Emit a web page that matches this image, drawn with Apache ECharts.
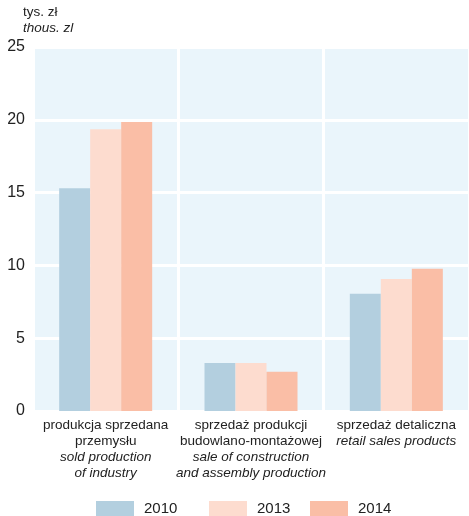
<!DOCTYPE html>
<html><head><meta charset="utf-8">
<script src="https://cdn.jsdelivr.net/npm/echarts@6/dist/echarts.min.js"></script>
<style>html,body{margin:0;padding:0;background:#fff}#c{width:469px;height:516px}</style>
</head><body><div id="c"></div>
<script>
const categories = [
  ['produkcja sprzedana', 'przemysłu', 'sold production', 'of industry'],
  ['sprzedaż produkcji', 'budowlano-montażowej', 'sale of construction', 'and assembly production'],
  ['sprzedaż detaliczna', 'retail sales products']
];
const catItalicFrom = [2, 2, 1];
const seriesNames = ['2010', '2013', '2014'];
const values2010 = [15.3, 3.3, 8.05];
const values2013 = [19.35, 3.3, 9.07];
const values2014 = [19.85, 2.7, 9.77];
const yTicks = [0, 5, 10, 15, 20, 25];
const colors = ['#b3cfdf', '#fddccf', '#fabea6'];
const FONT = '"Liberation Sans Narrow", "Liberation Sans", Arial, sans-serif';
const legendLeft = [91, 204, 305];

const catLabels = categories.map((lines, i) =>
  lines.map((l, j) => j >= catItalicFrom[i] ? '{i|' + l + '}' : '{n|' + l + '}').join('\n'));

const chart = echarts.init(document.getElementById('c'));
chart.setOption({
  animation: false,
  textStyle: { fontFamily: FONT },
  graphic: [
    { type: 'text', left: 23, top: 5, style: { text: 'tys. zł', font: '13.5px ' + FONT, fill: '#222' } },
    { type: 'text', left: 23, top: 21, style: { text: 'thous. zl', font: 'italic 13.5px ' + FONT, fill: '#222' } }
  ],
  grid: { left: 33, right: 0, top: 47, bottom: 105, backgroundColor: '#eaf5fb', show: true, borderWidth: 0 },
  legend: seriesNames.map((n, i) => ({
    top: 496, left: legendLeft[i], itemWidth: 38, itemHeight: 16,
    icon: 'rect',
    textStyle: { fontFamily: FONT, fontSize: 15, color: '#222', padding: [0, 0, 0, 5] },
    data: [n]
  })),
  xAxis: {
    type: 'category',
    data: catLabels,
    axisLine: { show: false }, axisTick: { show: false },
    splitLine: { show: true, lineStyle: { color: '#fff', width: 3 } },
    axisLabel: {
      interval: 0, margin: 6, lineHeight: 16,
      rich: {
        n: { fontFamily: FONT, fontSize: 13.5, color: '#222', lineHeight: 16 },
        i: { fontFamily: FONT, fontSize: 13.5, fontStyle: 'italic', color: '#222', lineHeight: 16 }
      }
    }
  },
  yAxis: {
    type: 'value', min: 0, max: 25, interval: 5,
    axisLine: { show: false }, axisTick: { show: false },
    splitLine: { lineStyle: { color: '#fff', width: 3 } },
    axisLabel: {
      fontFamily: FONT, fontSize: 16, color: '#222', margin: 8,
      formatter: v => yTicks.includes(v) ? String(v) : ''
    }
  },
  series: [values2010, values2013, values2014].map((d, i) => ({
    name: seriesNames[i], type: 'bar', data: d,
    barGap: '0%', barCategoryGap: '36%',
    itemStyle: { color: colors[i] }
  }))
});
</script></body></html>
